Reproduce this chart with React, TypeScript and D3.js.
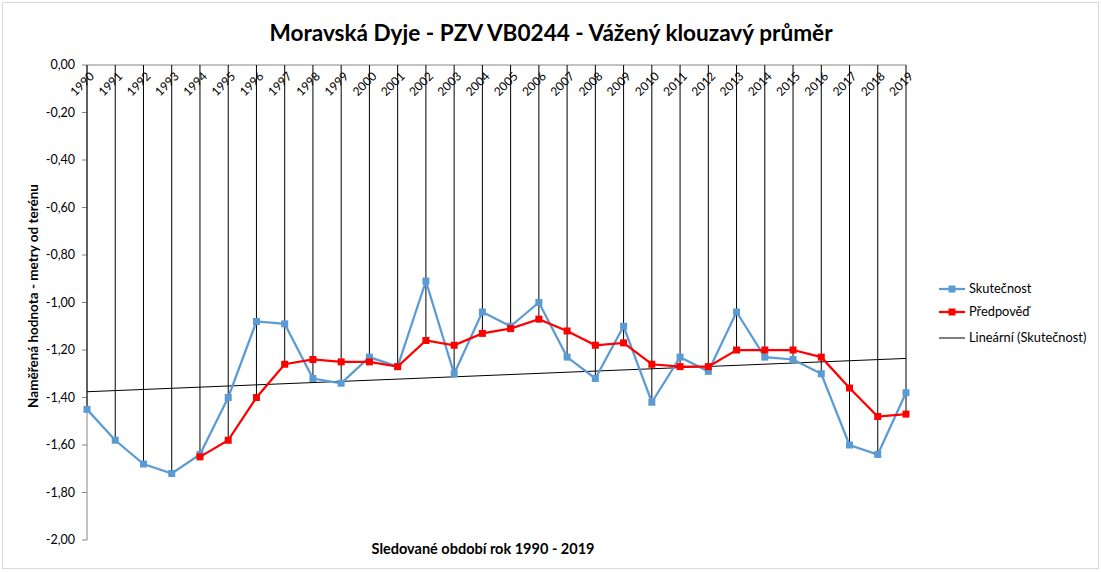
import React from 'react';
import * as d3 from 'd3';

const years = d3.range(1990, 2020).map(String);
// Skutečnost 1990-2019
const actual = [
  -1.45, -1.58, -1.68, -1.72, -1.64, -1.4, -1.08, -1.09, -1.32, -1.34,
  -1.23, -1.27, -0.91, -1.3, -1.04, -1.1, -1.0, -1.23, -1.32, -1.1,
  -1.42, -1.23, -1.29, -1.04, -1.23, -1.24, -1.3, -1.6, -1.64, -1.38,
];
// Předpověď 1994-2019
const forecastStart = 4;
const forecast = [
  -1.65, -1.58, -1.4, -1.26, -1.24, -1.25, -1.25, -1.27, -1.16, -1.18,
  -1.13, -1.11, -1.07, -1.12, -1.18, -1.17, -1.26, -1.27, -1.27, -1.2,
  -1.2, -1.2, -1.23, -1.36, -1.48, -1.47,
];
const yTicks = d3.range(0, -2.01, -0.2);

const font = 'Lato, "Open Sans", sans-serif';

export default function App() {
  const width = 1101;
  const height = 572;
  const left = 87;
  const right = 906;
  const top = 65;
  const bottom = 540;

  const x = d3.scaleLinear().domain([0, years.length - 1]).range([left, right]);
  const y = d3.scaleLinear().domain([0, -2]).range([top, bottom]);

  const line = d3
    .line<number>()
    .x((d, i) => x(i))
    .y(d => y(d));
  const fLine = d3
    .line<number>()
    .x((d, i) => x(i + forecastStart))
    .y(d => y(d));

  // linear trend of actual values (least squares)
  const n = actual.length;
  const mx = d3.mean(actual, (d, i) => i) as number;
  const my = d3.mean(actual) as number;
  const slope =
    d3.sum(actual, (d, i) => (i - mx) * (d - my)) /
    d3.sum(actual, (d, i) => (i - mx) * (i - mx));
  const icpt = my - slope * mx;

  const blue = '#5B9BD5';
  const red = '#FF0000';

  const lowest = (i: number) => {
    const f = i >= forecastStart ? forecast[i - forecastStart] : 0;
    return Math.min(actual[i], f);
  };

  return (
    <svg
      width={width}
      height={height}
      style={{ position: 'absolute', left: 0, top: 0, background: '#fff' }}
      fontFamily={font}
    >
      <rect x={2.5} y={2.5} width={width - 5} height={height - 6} fill="#fff" stroke="#d9d9d9" />
      <text x={551} y={41} textAnchor="middle" fontSize={22.6} fontWeight="bold">
        Moravská Dyje - PZV VB0244 - Vážený klouzavý průměr
      </text>

      {/* y axis */}
      <line x1={left} x2={left} y1={top} y2={bottom} stroke="#868686" />
      {yTicks.map(t => (
        <g key={t}>
          <line x1={left - 5} x2={left} y1={y(t)} y2={y(t)} stroke="#868686" />
          <text x={left - 12} y={y(t)} dy="0.35em" textAnchor="end" fontSize={12.5}>
            {t.toFixed(2).replace('.', ',').replace('-0,00', '0,00')}
          </text>
        </g>
      ))}
      <text
        transform={`translate(38,${296}) rotate(-90)`}
        textAnchor="middle"
        fontSize={13.5}
        fontWeight="bold"
      >
        Naměřená hodnota - metry od terénu
      </text>

      {/* category axis at top */}
      <line x1={left} x2={right} y1={top} y2={top} stroke="#868686" />
      {years.map((yr, i) => (
        <g key={yr}>
          <line x1={x(i)} x2={x(i)} y1={top} y2={y(lowest(i))} stroke="#000" strokeWidth={1} />
          <text
            transform={`translate(${x(i) + 5},${top + 9}) rotate(-45)`}
            textAnchor="end"
            dy="0.35em"
            fontSize={12}
          >
            {yr}
          </text>
        </g>
      ))}
      <text x={483} y={554} textAnchor="middle" fontSize={14.5} fontWeight="bold">
        Sledované období rok 1990 - 2019
      </text>

      {/* trend */}
      <line
        x1={x(0)}
        x2={x(n - 1)}
        y1={y(icpt)}
        y2={y(icpt + slope * (n - 1))}
        stroke="#000"
        strokeWidth={1}
      />

      <path d={line(actual) || ''} fill="none" stroke={blue} strokeWidth={2.25} />
      {actual.map((d, i) => (
        <rect key={i} x={x(i) - 3.5} y={y(d) - 3.5} width={7} height={7} fill={blue} />
      ))}
      <path d={fLine(forecast) || ''} fill="none" stroke={red} strokeWidth={2.25} />
      {forecast.map((d, i) => (
        <rect key={i} x={x(i + forecastStart) - 3.5} y={y(d) - 3.5} width={7} height={7} fill={red} />
      ))}

      {/* legend */}
      <g fontSize={12.8}>
        <line x1={939} x2={965} y1={289} y2={289} stroke={blue} strokeWidth={2.25} />
        <rect x={948.5} y={285.5} width={7} height={7} fill={blue} />
        <text x={969} y={289} dy="0.35em">Skutečnost</text>
        <line x1={939} x2={965} y1={312} y2={312} stroke={red} strokeWidth={2.25} />
        <rect x={948.5} y={308.5} width={7} height={7} fill={red} />
        <text x={969} y={312} dy="0.35em">Předpověď</text>
        <line x1={939} x2={965} y1={338} y2={338} stroke="#000" strokeWidth={1} />
        <text x={969} y={338} dy="0.35em">Lineární (Skutečnost)</text>
      </g>
    </svg>
  );
}
